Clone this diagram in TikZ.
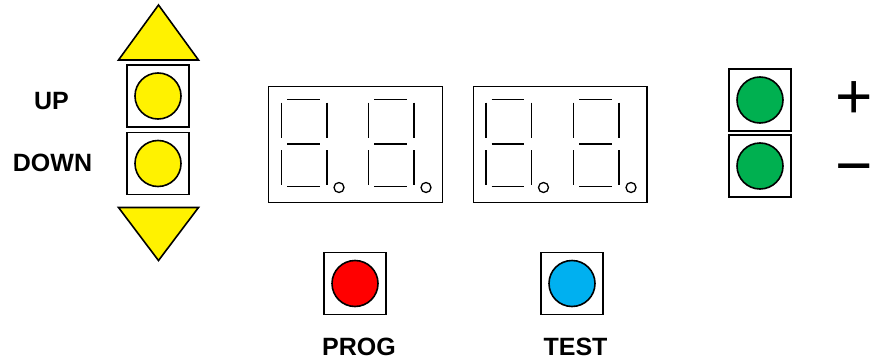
\documentclass[tikz,border=0pt]{standalone}
\usepackage{fontspec}
\setmainfont{Liberation Sans}
\begin{document}
\begin{tikzpicture}[x=1pt,y=-1pt,
  frame/.style={draw=black,line width=1.6pt,fill=white},
  lamp/.style={circle,draw=black,line width=1.6pt,minimum size=46pt,inner sep=0pt},
  seg/.style={line width=1.6pt},
  pt/.style={circle,draw=black,line width=1.3pt,minimum size=10pt,inner sep=0pt},
  lbl/.style={font=\fontsize{25}{25}\selectfont\bfseries,inner sep=0pt,anchor=base},
  sign/.style={font=\fontsize{64}{64}\selectfont,inner sep=0pt,anchor=base},
  tri/.style={draw=black,line width=1.6pt,fill=yellow,line join=miter}]
\useasboundingbox (0,0) rectangle (872,361);
\definecolor{ledgreen}{HTML}{00B050}
\definecolor{ledblue}{HTML}{00B0F0}

% up / down arrows
\coordinate (upA) at (158.5,5);
\coordinate (upL) at (118.5,60);
\coordinate (upR) at (198.5,60);
\filldraw[tri] (upA) -- (upL) -- (upR) -- cycle;
\coordinate (dnA) at (158.5,260.5);
\coordinate (dnL) at (118.5,207.5);
\coordinate (dnR) at (198.5,207.5);
\filldraw[tri] (dnA) -- (dnL) -- (dnR) -- cycle;

% push buttons: square frame with a coloured lamp
\newcommand{\pushbtn}[3]{%
  \node[frame,minimum size=62pt,inner sep=0pt] (#1box) at (#2) {};
  \node[lamp,fill=#3] (#1) at (#2) {};}
\pushbtn{up}{158,96}{yellow}
\pushbtn{down}{158,163.5}{yellow}
\pushbtn{plus}{760,100}{ledgreen}
\pushbtn{minus}{760,166}{ledgreen}
\pushbtn{prog}{355,283.5}{red}
\pushbtn{test}{572,283.5}{ledblue}

% labels
\node[lbl] (lup) at (51.5,109) {UP};
\node[lbl] (ldown) at (52.5,171.5) {DOWN};
\node[lbl] (lprog) at (359,355.5) {PROG};
\node[lbl] (ltest) at (575.5,355.5) {TEST};
\node[sign] (splus) at (854.5,118) {+};
\node[sign] (sminus) at (854.5,187.5) {−};

% seven-segment digit with decimal point, origin at upper-left segment
\newcommand{\segdigit}[2]{%
  \begin{scope}[shift={(#2,0)}]
    \draw[seg] (0,102.5) -- (0,138);
    \draw[seg] (45.5,102.5) -- (45.5,138);
    \draw[seg] (0,150) -- (0,184.5);
    \draw[seg] (45.5,150) -- (45.5,184.5);
    \draw[seg] (5.5,99.5) -- (38,99.5);
    \draw[seg] (5.5,144) -- (38,144);
    \draw[seg] (5.5,186.5) -- (38,186.5);
    \node[pt] (#1) at (57.5,187.5) {};
  \end{scope}}

% two double-digit displays
\draw[frame] (268.5,86.5) rectangle (442.5,202.5);
\draw[frame] (473.5,86.5) rectangle (647,202.5);
\segdigit{dpa}{281.5}
\segdigit{dpb}{368.5}
\segdigit{dpc}{486}
\segdigit{dpd}{573.5}
\end{tikzpicture}
\end{document}
